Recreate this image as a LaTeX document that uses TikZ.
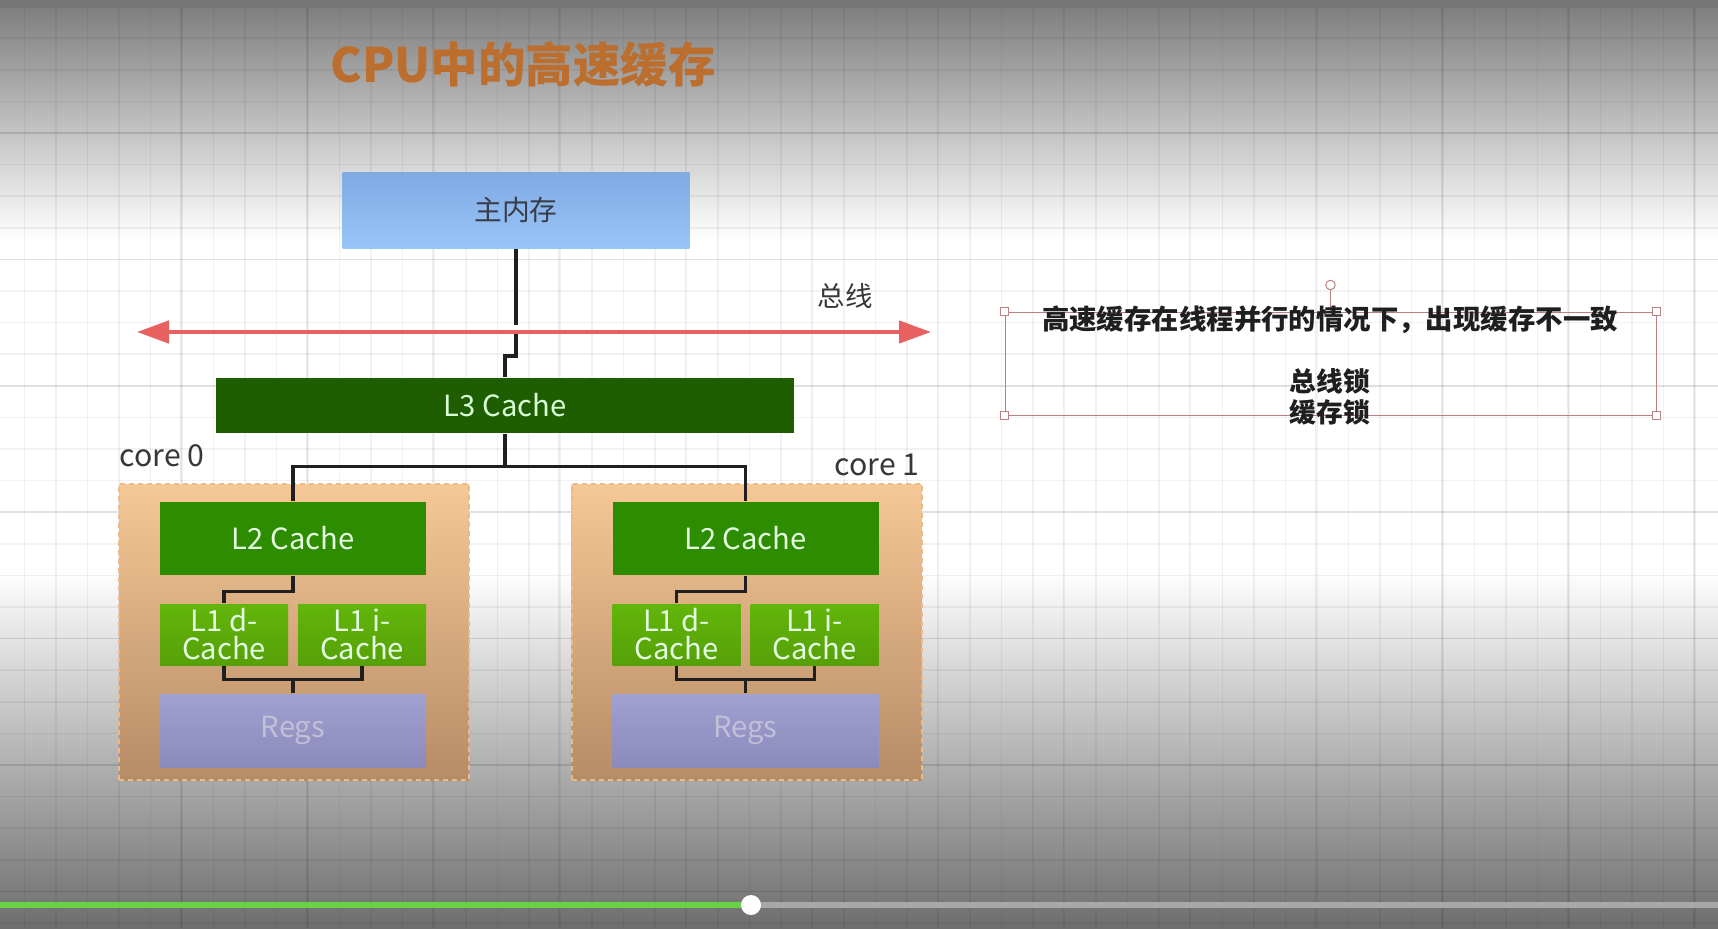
\documentclass[tikz,border=0pt]{standalone}
\usepackage{fontspec}
\setmainfont{Noto Sans CJK SC}
\usetikzlibrary{arrows.meta,positioning}
\definecolor{memtop}{RGB}{128,170,226}
\definecolor{membot}{RGB}{152,197,249}
\definecolor{memtext}{RGB}{55,60,70}
\definecolor{lthree}{RGB}{31,94,0}
\definecolor{ltwo}{RGB}{46,140,0}
\definecolor{lone}{RGB}{98,182,10}
\definecolor{regtop}{RGB}{160,160,210}
\definecolor{regbot}{RGB}{140,138,186}
\definecolor{regtext}{RGB}{192,192,216}
\definecolor{coretop}{RGB}{246,200,150}
\definecolor{corebot}{RGB}{182,140,102}
\definecolor{coreedge}{RGB}{236,186,136}
\definecolor{busred}{RGB}{232,96,96}
\definecolor{titleorange}{RGB}{188,110,46}
\definecolor{selpink}{RGB}{185,130,130}
\definecolor{darktext}{RGB}{55,55,55}
\definecolor{bargreen}{RGB}{102,210,70}
\definecolor{bargrey}{RGB}{168,168,168}
\tikzset{
  >={Triangle[length=3.2mm,width=2.2mm]},
  minorline/.style={black,opacity=0.05,line width=0.15mm},
  majorline/.style={black,opacity=0.07,line width=0.15mm},
  link/.style={draw=black!88,line width=0.33mm},
  bus/.style={<->,draw=busred,line width=0.45mm},
  cache/.style={fill=#1,inner sep=0pt,minimum width=26.6mm,minimum height=7.3mm,
    align=center,text=white!90!green,font=\fontsize{8.3}{8}\selectfont},
  cache/.default=ltwo,
  lonebox/.style={cache,top color=lone,bottom color=lone!88!black,
    minimum width=12.8mm,minimum height=6.1mm},
  regbox/.style={cache,top color=regtop,bottom color=regbot,text=regtext},
  corebox/.style={top color=coretop,bottom color=corebot,draw=coreedge,
    dash pattern=on 0.5mm off 0.4mm,line width=0.2mm,inner sep=0pt,
    minimum width=35mm,minimum height=29.6mm},
  tag/.style={font=\fontsize{8.6}{9}\selectfont,text=darktext},
  note/.style={font=\fontsize{7.8}{9}\selectfont\bfseries,text=black!88,align=center},
  handle/.style={draw=selpink,fill=white,line width=0.1mm,inner sep=0pt,minimum size=0.75mm},
}

\begin{document}
\begin{tikzpicture}[x=0.1mm,y=-0.1mm]
  \useasboundingbox (0,0) rectangle (1718,928);
  % background with the screen shading
  \fill[white] (0,0) rectangle (1718,928);
  \shade[top color=black!50,bottom color=white] (0,8) rectangle (1718,240);
  \shade[top color=white,bottom color=black!57] (0,570) rectangle (1718,928);
  \foreach \k in {0,...,54} \draw[minorline] ({24.5+31.52*\k},8) -- ({24.5+31.52*\k},928);
  \foreach \k in {0,...,12} \draw[majorline] ({181+126.08*\k},8) -- ({181+126.08*\k},928);
  \foreach \k in {0,...,29} \draw[minorline] (0,{6.6+31.6*\k}) -- (1718,{6.6+31.6*\k});
  \foreach \k in {0,...,7} \draw[majorline] (0,{6.6+126.4*\k}) -- (1718,{6.6+126.4*\k});
  \fill[black!54] (0,0) rectangle (1718,8);

  \node[font=\fontsize{13.5}{16}\selectfont\bfseries,text=titleorange] (title) at (523,64) {CPU中的高速缓存};

  % memory, bus, L3
  \node[top color=memtop,bottom color=membot,minimum width=34.7mm,minimum height=7.6mm,
    inner sep=0pt,text=memtext,font=\fontsize{7.9}{9}\selectfont] (mem) at (516,210) {主内存};
  \coordinate (busL) at (137,332);
  \coordinate (busR) at (931,332);
  \coordinate (tap) at (516,332);
  \draw[bus] (busL) -- (busR);
  \node[tag,font=\fontsize{7.8}{9}\selectfont] (buslab) at (845,296) {总线};
  \node[cache=lthree,minimum width=57.8mm,minimum height=5.5mm,text=white!85!green] (l3) at (505,405.5) {L3 Cache};
  \draw[link,shorten >=0.7mm] (mem.south) -- (tap);
  \draw[link] (tap) ++(0,2) -- ++(0,22) -| (l3.north);

  % two cores
  \foreach \i/\x in {0/293,1/745.5} {
    \node[corebox] (core\i) at (\x+1,632) {};
    \node[cache] (ltwo\i) at (\x,538.5) {L2 Cache};
    \node[lonebox] (lone d\i) at (\x-69,634.5) {L1 d-\\Cache};
    \node[lonebox] (lone i\i) at (\x+69,634.5) {L1 i-\\Cache};
    \node[regbox] (regs\i) at (\x,730.5) {Regs};
    \draw[link] (l3.south) -- ++(0,33) -| (ltwo\i.north);
    \draw[link] (ltwo\i.south) -- ++(0,16) -| (lone d\i.north);
    \draw[link] (lone d\i.south) -- ++(0,14) -| (lone i\i.south);
    \draw[link] (regs\i.north) -- ++(0,-15);
  }
  \node[tag] (corelab0) at (162,456) {core 0};
  \node[tag] (corelab1) at (877,465) {core 1};

  % selected text box
  \node[draw=selpink,line width=0.1mm,inner sep=0pt,minimum width=65.1mm,minimum height=10.3mm] (ann) at (1330.5,363.5) {};
  \node[circle,draw=selpink,fill=white,line width=0.1mm,inner sep=0pt,minimum size=0.95mm] (rot) at (1330.5,285) {};
  \draw[selpink,line width=0.1mm] (rot) -- (ann.north);
  \foreach \a in {north west,north east,south west,south east} \node[handle] at (ann.\a) {};
  \node[note] (issue) at (1330,320) {高速缓存在线程并行的情况下，出现缓存不一致};
  \node[note,font=\fontsize{7.6}{9}\selectfont\bfseries] (locks) at (1330,397) {总线锁\\缓存锁};

  % player bar
  \coordinate (knobc) at (751,905);
  \draw[bargrey,line width=0.55mm] (knobc) -- (1718,905);
  \draw[bargreen,line width=0.55mm] (0,905) -- (knobc);
  \node[circle,fill=white,inner sep=0pt,minimum size=2mm] (knob) at (knobc) {};
\end{tikzpicture}
\end{document}
